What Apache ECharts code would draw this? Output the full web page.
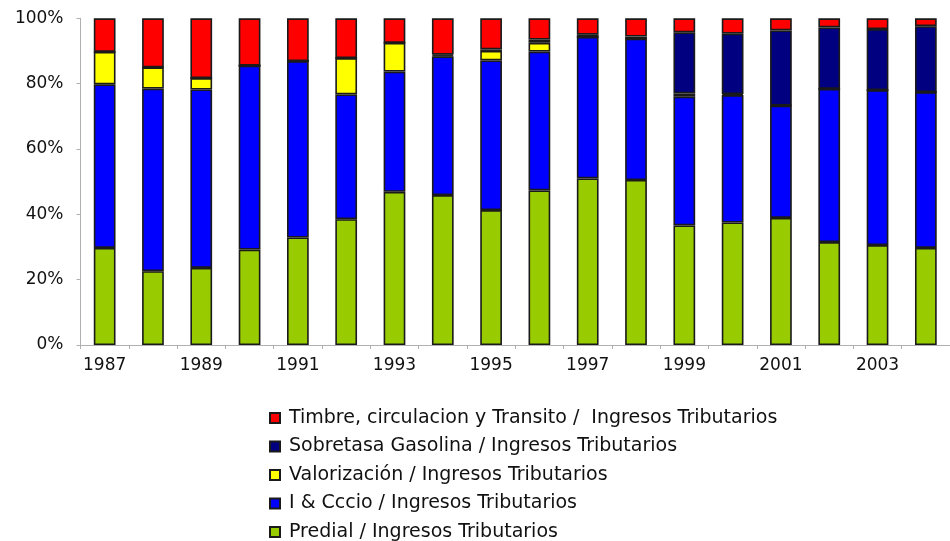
<!DOCTYPE html>
<html>
<head>
<meta charset="utf-8">
<script src="https://cdn.jsdelivr.net/npm/echarts@6/dist/echarts.min.js"></script>
<style>html,body{margin:0;padding:0;background:#fff}#c{width:950px;height:541px}</style>
</head>
<body>
<div id="c"></div>
<script>
const years = ['1987','1988','1989','1990','1991','1992','1993','1994','1995','1996','1997','1998','1999','2000','2001','2002','2003','2004'];
const yTicks = ['0%','20%','40%','60%','80%','100%'];
const predial    = [29.7,22.6,23.6,29.2,32.9,38.5,46.9,45.9,41.3,47.3,51.0,50.5,36.6,37.5,38.9,31.5,30.6,29.7];
const icccio     = [50.1,55.9,54.6,56.3,54.0,38.2,36.8,42.4,45.8,42.5,43.3,43.3,39.4,39.0,34.4,46.9,47.4,47.7];
const valorizacion = [9.9,6.5,3.5,0,0,11.1,8.8,0.3,2.9,2.7,0,0,1.0,0.3,0,0,0,0];
const sobretasa  = [0,0,0,0,0,0,0,0.3,0.5,1.0,0.7,0.6,18.7,18.5,23.0,18.8,18.7,20.2];
const timbre     = [10.3,15.0,18.3,14.5,13.1,12.2,7.5,11.1,9.5,6.5,5.0,5.6,4.3,4.7,3.7,2.8,3.3,2.4];

const names = {
  timbre: 'Timbre, circulacion y Transito /  Ingresos Tributarios',
  sobretasa: 'Sobretasa Gasolina / Ingresos Tributarios',
  valor: 'Valorización / Ingresos Tributarios',
  icccio: 'I & Cccio / Ingresos Tributarios',
  predial: 'Predial / Ingresos Tributarios'
};
const font = 'DejaVu Sans';
function s(name, data, color){
  return {name, type:'bar', stack:'t', data, barWidth:'45%',
    itemStyle:{color, borderColor:'#1a1a1a', borderWidth:1.6}};
}
const chart = echarts.init(document.getElementById('c'));
chart.setOption({
  animation:false,
  grid:{left:80.5, top:18.3, bottom:196, width:881.6, containLabel:false},
  legend:{orient:'vertical', left:264, top:403.5, height:140, itemWidth:10, itemHeight:10, itemGap:9.5,
    icon:'rect',
    textStyle:{fontFamily:font, fontSize:19, color:'#111', padding:[0,0,0,4]},
    data:[names.timbre, names.sobretasa, names.valor, names.icccio, names.predial]},
  xAxis:{type:'category', data:years,
    axisLine:{lineStyle:{color:'#b0b0b0', width:1}},
    axisTick:{show:true, interval:0, length:4, lineStyle:{color:'#b0b0b0'}},
    axisLabel:{interval:1, margin:12, fontFamily:font, fontSize:17, color:'#111'}},
  yAxis:{type:'value', min:0, max:100, interval:20,
    axisLine:{show:true, lineStyle:{color:'#b0b0b0'}},
    axisTick:{show:true, length:4, lineStyle:{color:'#b0b0b0'}},
    splitLine:{show:false},
    axisLabel:{margin:17, fontFamily:font, fontSize:17, color:'#111',
      formatter:(v)=>yTicks[Math.round(v/20)]}},
  series:[
    s(names.predial, predial, '#99cc00'),
    s(names.icccio, icccio, '#0000ff'),
    s(names.valor, valorizacion, '#ffff00'),
    s(names.sobretasa, sobretasa, '#000080'),
    s(names.timbre, timbre, '#ff0000')
  ]
});
</script>
</body>
</html>
